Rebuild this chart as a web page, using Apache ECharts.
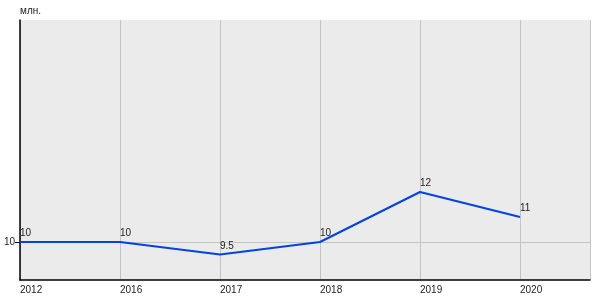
<!DOCTYPE html>
<html><head><meta charset="utf-8">
<script src="https://cdn.jsdelivr.net/npm/echarts@6/dist/echarts.min.js"></script>
<style>html,body{margin:0;padding:0;background:#fff}#c{width:600px;height:300px}</style>
</head><body><div id="c"></div>
<script>
const categories = ['2012', '2016', '2017', '2018', '2019', '2020'];
const values = [10, 10, 9.5, 10, 12, 11];
const yTicks = [10];
const unitLabel = 'млн.';

const chart = echarts.init(document.getElementById('c'), null, {renderer: 'canvas'});
const font = 'Liberation Sans, Arial, sans-serif';
chart.setOption({
  animation: false,
  textStyle: {fontFamily: font},
  title: {text: unitLabel, left: 20, top: 6, padding: 0, textStyle: {fontSize: 10, fontWeight: 'normal', color: '#222', fontFamily: font}},
  grid: {left: 20, right: 10, top: 20, bottom: 20, show: true, backgroundColor: '#ebebeb', borderWidth: 0},
  xAxis: {
    type: 'value', min: 0, max: 5.7, interval: 1,
    axisLine: {show: true, lineStyle: {color: '#000', width: 1.5}},
    axisTick: {show: false},
    splitLine: {show: true, lineStyle: {color: '#c4c4c4', width: 1}},
    axisLabel: {
      color: '#222', fontSize: 10, fontFamily: font, align: 'left', margin: 5,
      showMaxLabel: false,
      formatter: v => (Number.isInteger(v) && categories[v] !== undefined) ? categories[v] : ''
    }
  },
  yAxis: {
    type: 'value', min: 8.48, max: 18.88,
    axisLine: {show: true, onZero: false, lineStyle: {color: '#000', width: 1.5}},
    axisTick: {show: true, length: 5, customValues: yTicks, lineStyle: {color: '#000'}},
    splitLine: {show: false},
    axisLabel: {color: '#222', fontSize: 10, fontFamily: font, margin: 5, customValues: yTicks}
  },
  series: [{
    type: 'line',
    data: [],
    z: 1,
    markLine: {
      silent: true, symbol: 'none', label: {show: false}, z: 1,
      lineStyle: {color: '#c4c4c4', type: 'solid', width: 1},
      data: yTicks.map(t => ({yAxis: t}))
    }
  }, {
    type: 'line',
    data: values.map((v, i) => [i, v]),
    symbol: 'circle',
    symbolSize: 1,
    showSymbol: true,
    itemStyle: {color: 'rgba(0,0,0,0)', borderWidth: 0},
    lineStyle: {color: '#0044e0', width: 2},
    label: {show: true, position: 'top', align: 'left', distance: 3, color: '#222', fontSize: 10, fontFamily: font},
    z: 5
  }]
});
</script></body></html>
